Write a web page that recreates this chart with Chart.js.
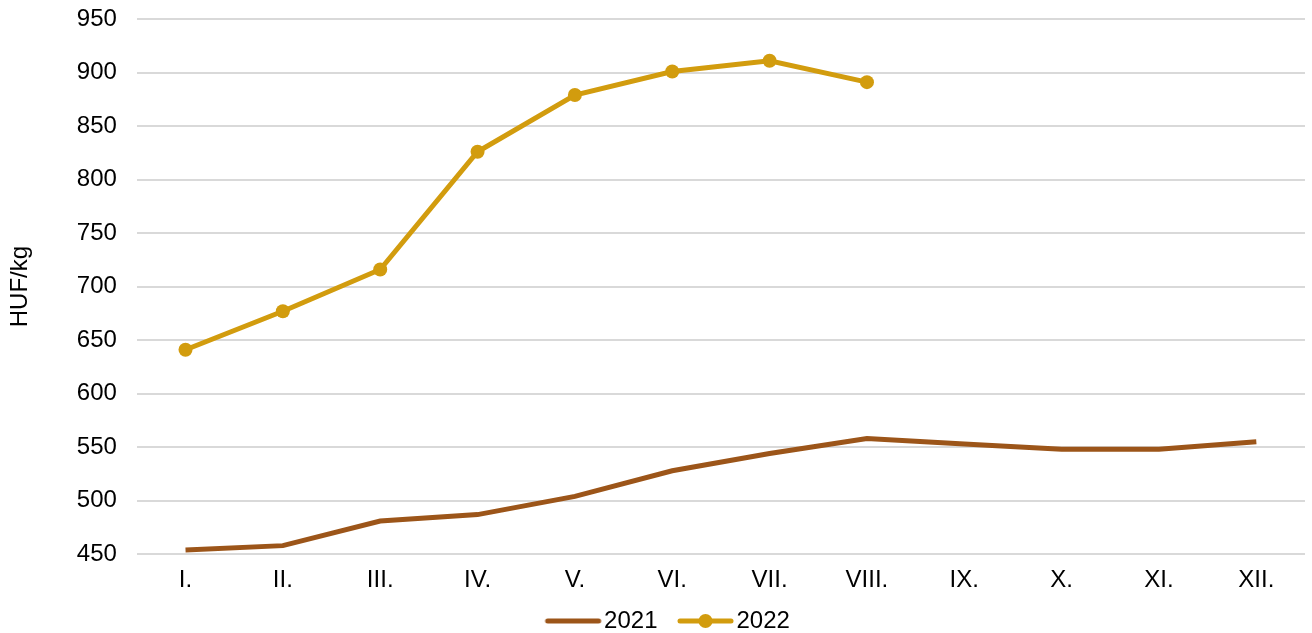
<!DOCTYPE html>
<html>
<head>
<meta charset="utf-8">
<script src="https://cdn.jsdelivr.net/npm/chart.js@4"></script>
<style>
  html, body { margin: 0; padding: 0; background: #fff; }
  #wrap { width: 1312px; height: 633px; position: relative; }
</style>
</head>
<body>
<div id="wrap"><canvas id="priceChart"></canvas></div>
<script>
// months (roman numerals) and monthly prices, HUF/kg
var months = ['I.', 'II.', 'III.', 'IV.', 'V.', 'VI.', 'VII.', 'VIII.', 'IX.', 'X.', 'XI.', 'XII.'];
var prices2021 = [454, 458, 481, 487, 504, 528, 544, 558, 553, 548, 548, 555];
var prices2022 = [641, 677, 716, 826, 879, 901, 911, 891, null, null, null, null];
var yTicks = [450, 500, 550, 600, 650, 700, 750, 800, 850, 900, 950];

var color2021 = '#9C5519';
var color2022 = '#D29C0E';

// legend glyphs: plain line, and line with a dot
// image is wider than the legend box and drawn centred, so the line is shifted right
function makeGlyph(color, withDot) {
    const c = document.createElement('canvas');
    c.width = 120; c.height = 16;
    const g = c.getContext('2d');
    g.strokeStyle = color;
    g.lineWidth = 5;
    g.lineCap = 'round';
    g.beginPath(); g.moveTo(44, 8); g.lineTo(95, 8); g.stroke();
    if (withDot) {
        g.fillStyle = color;
        g.beginPath(); g.arc(69.5, 8, 7, 0, Math.PI * 2); g.fill();
    }
    return c;
}

// nudge the legend a bit to the right, like the original
var legendNudge = {
    id: 'legendNudge',
    afterLayout: function(chart) {
        if (chart.legend) {
            chart.legend.left += 8;
            chart.legend.right += 8;
        }
    }
};

Chart.defaults.font.family = '"Liberation Sans", Arial, sans-serif';
Chart.defaults.font.size = 24;
Chart.defaults.color = '#000';

new Chart(document.getElementById('priceChart'), {
    type: 'line',
    data: {
        labels: months,
        datasets: [{
            label: '2021',
            data: prices2021,
            borderColor: color2021,
            backgroundColor: color2021,
            borderWidth: 5,
            pointRadius: 0,
            pointHoverRadius: 0,
            tension: 0
        }, {
            label: '2022',
            data: prices2022,
            borderColor: color2022,
            backgroundColor: color2022,
            borderWidth: 5,
            pointRadius: 7,
            pointBorderWidth: 0,
            pointStyle: 'circle',
            tension: 0
        }]
    },
    options: {
        responsive: true,
        maintainAspectRatio: false,
        animation: false,
        layout: { padding: { left: 0, right: 3, top: 19, bottom: -10 } },
        plugins: {
            tooltip: { enabled: false },
            legend: {
                position: 'bottom',
                labels: {
                    usePointStyle: true,
                    pointStyleWidth: 57,
                    padding: 10,
                    generateLabels: function(chart) {
                        return chart.data.datasets.map(function(ds, i) {
                            return {
                                text: ds.label,
                                datasetIndex: i,
                                fontColor: '#000',
                                lineWidth: 0,
                                strokeStyle: 'transparent',
                                fillStyle: 'transparent',
                                pointStyle: makeGlyph(ds.borderColor, i === 1)
                            };
                        });
                    }
                }
            }
        },
        scales: {
            x: {
                offset: true,
                grid: { display: false },
                border: { display: false },
                ticks: { padding: 4, maxRotation: 0 },
                afterFit: function(axis) {
                    axis.paddingLeft = 0;
                    axis.paddingRight = 0;
                }
            },
            y: {
                min: 450,
                max: 950,
                afterBuildTicks: function(axis) {
                    axis.ticks = yTicks.map(function(v) { return { value: v }; });
                },
                afterFit: function(axis) {
                    // let the top tick label sit in the layout padding
                    axis.paddingTop = 0;
                },
                grid: { color: '#D9D9D9', lineWidth: 2, drawTicks: false },
                border: { display: false },
                ticks: { padding: 20 },
                title: { display: true, text: 'HUF/kg', padding: { top: 6, bottom: 22 } }
            }
        }
    },
    plugins: [legendNudge]
});
</script>
</body>
</html>
